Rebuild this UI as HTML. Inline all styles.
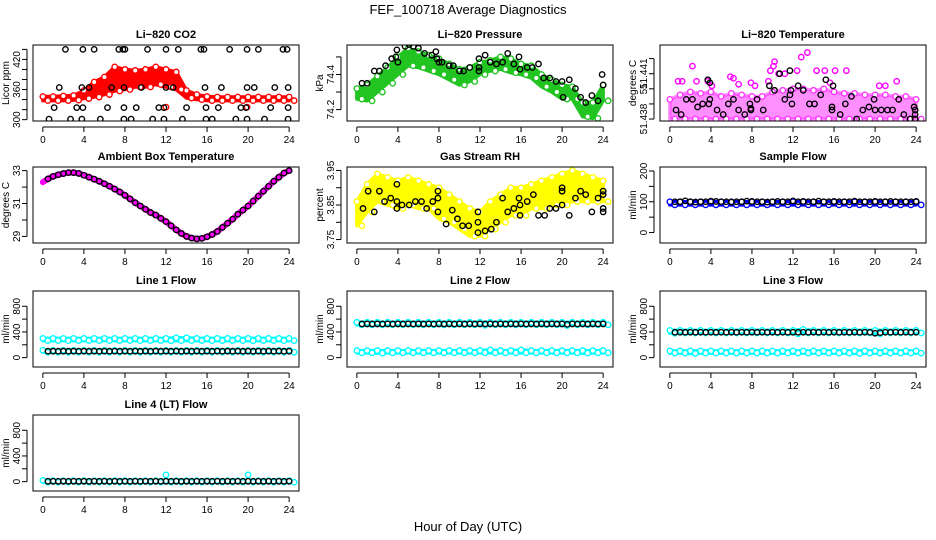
<!DOCTYPE html>
<html><head><meta charset="utf-8">
<style>
html,body{margin:0;padding:0;background:#fff;}
svg{display:block;font-family:"Liberation Sans",sans-serif;}
</style></head>
<body>
<svg id="chart" width="936" height="540" viewBox="0 0 936 540" xmlns="http://www.w3.org/2000/svg">
<rect x="0" y="0" width="936" height="540" fill="#fff"/>
<text x="468" y="14" text-anchor="middle" font-size="13">FEF_100718  Average Diagnostics</text>
<text x="468" y="531" text-anchor="middle" font-size="13">Hour of Day (UTC)</text>
</svg>
<script>
// ---------- data ----------
const HOURS=[0,1,2,3,4,5,6,7,8,9,10,11,12,13,14,15,16,17,18,19,20,21,22,23,24];
const HALF=[0.5,1,1.5,2,2.5,3,3.5,4,4.5,5,5.5,6,6.5,7,7.5,8,8.5,9,9.5,10,10.5,11,11.5,12,12.5,13,13.5,14,14.5,15,15.5,16,16.5,17,17.5,18,18.5,19,19.5,20,20.5,21,21.5,22,22.5,23,23.5,24];
const xTicks=[0,4,8,12,16,20,24];

// CO2
const co2Lo=[338,338,338,339,342,345,350,357,360,365,365,370,365,360,343,340,338,338,338,338,338,338,338,338,338];
const co2Hi=[346,346,347,348,358,375,385,405,400,398,400,405,400,395,358,350,346,345,345,345,345,345,345,345,345];
const co2RedT=[12,19.9];
const co2RedV=[325,325];
const co2BlackT=[2.2,3.9,5.0,7.4,7.8,8.0,10.2,12.0,13.2,15.4,15.7,18.2,19.9,21.0,23.4,23.8,
 1.6,3.8,4.5,6.7,7.9,9.6,12.0,12.7,15.8,17.4,19.9,20.6,22.6,23.9,
 1.1,3.3,3.9,6.3,7.9,9.1,11.3,11.8,14.0,15.9,17.1,19.3,19.8,22.2,23.9,
 0.6,2.7,3.8,5.6,7.9,8.6,10.7,11.8,13.6,15.9,16.5,18.8,19.9,21.6,23.9];
const co2BlackV=[440,440,440,440,440,440,440,440,440,440,440,440,440,440,440,440,
 364,364,364,364,364,364,364,364,364,364,364,364,364,364,
 324,324,324,324,324,324,324,324,324,324,324,324,324,324,324,
 301,301,301,301,301,301,301,301,301,301,301,301,301,301,301];

// Pressure
const presLo=[74.26,74.25,74.30,74.35,74.40,74.45,74.44,74.42,74.40,74.37,74.34,74.36,74.40,74.42,74.43,74.41,74.40,74.38,74.33,74.30,74.26,74.26,74.16,74.15,74.25];
const presHi=[74.32,74.34,74.39,74.44,74.50,74.55,74.53,74.51,74.49,74.46,74.43,74.44,74.47,74.48,74.50,74.49,74.46,74.45,74.40,74.37,74.34,74.33,74.24,74.24,74.34];
const presBlackT=[0.5,1.0,1.7,2.2,2.8,3.4,3.8,3.9,4.0,4.7,5.1,5.5,6.0,6.6,7.3,7.7,7.8,8.0,8.3,9.0,9.4,10.0,10.4,11.0,11.9,11.9,11.9,12.5,13.0,13.6,14.2,14.7,15.3,15.8,15.9,16.6,17.1,17.7,18.2,18.8,19.4,20.0,20.1,20.7,21.3,21.8,22.3,22.9,23.5,23.9,24.0];
const presBlackV=[74.35,74.35,74.42,74.42,74.45,74.49,74.50,74.54,74.47,74.56,74.57,74.56,74.55,74.52,74.51,74.53,74.49,74.47,74.47,74.45,74.45,74.42,74.42,74.44,74.49,74.44,74.42,74.51,74.47,74.46,74.47,74.52,74.46,74.50,74.43,74.44,74.44,74.46,74.38,74.38,74.36,74.36,74.27,74.37,74.32,74.27,74.24,74.28,74.25,74.40,74.34];

// Li-820 temperature
const ltLo=[51.4380,51.4380,51.4380,51.4380,51.4380,51.4380,51.4380,51.4380,51.4380,51.4380,51.4380,51.4380,51.4380,51.4380,51.4380,51.4380,51.4380,51.4380,51.4380,51.4380,51.4380,51.4380,51.4380,51.4380,51.4380];
const ltHi=[51.4393,51.4396,51.4398,51.4397,51.4398,51.4395,51.4397,51.4396,51.4395,51.4395,51.4398,51.4399,51.4400,51.4400,51.4399,51.4400,51.4398,51.4397,51.4397,51.4396,51.4396,51.4396,51.4395,51.4395,51.4393];
const ltMagT=[0.8,1.2,2.2,2.6,3.7,5.9,6.2,7.9,8.3,9.6,9.8,10.1,10.2,10.6,11.2,12.4,12.8,13.4,14.2,14.3,15.1,16.1,17.2,22.1,4.1,6.7,15.6,20.4,21.0];
const ltMagV=[51.4405,51.4405,51.4415,51.4405,51.4405,51.4408,51.4407,51.4404,51.4402,51.4405,51.4412,51.4415,51.4418,51.4410,51.4410,51.4412,51.4421,51.4424,51.4432,51.4412,51.4412,51.4412,51.4412,51.4405,51.4402,51.4403,51.4404,51.4402,51.4402];
const ltBlackT=[0.6,1.1,1.6,2.2,2.7,3.2,3.7,3.9,3.8,3.9,4.6,5.2,5.7,6.2,6.7,7.3,7.8,7.9,7.9,8.5,9.1,9.7,10.2,10.7,11.2,11.7,11.7,11.8,11.9,12.5,13.0,13.6,14.1,14.7,15.2,15.8,15.9,15.8,16.6,17.1,17.7,18.2,18.8,19.4,19.9,20.0,20.6,21.2,21.7,22.3,22.8,23.4,23.8,23.9,23.9,23.9];
const ltBlackV=[51.4386,51.4383,51.4393,51.4393,51.4388,51.4390,51.4406,51.4404,51.4390,51.4393,51.4386,51.4383,51.4390,51.4393,51.4386,51.4383,51.4390,51.4387,51.4386,51.4393,51.4386,51.4402,51.4399,51.4410,51.4393,51.4412,51.4396,51.4399,51.4390,51.4402,51.4399,51.4390,51.4390,51.4396,51.4406,51.4388,51.4402,51.4386,51.4383,51.4390,51.4395,51.4380,51.4386,51.4388,51.4393,51.4386,51.4386,51.4386,51.4386,51.4393,51.4383,51.4380,51.4388,51.4386,51.4383,51.4380];

// Ambient box temperature
const ambient=[32.3,32.5,32.65,32.75,32.82,32.88,32.88,32.83,32.72,32.6,32.48,32.35,32.2,32.05,31.88,31.7,31.5,31.28,31.05,30.85,30.65,30.45,30.3,30.1,29.9,29.65,29.4,29.18,29.0,28.9,28.85,28.88,28.98,29.12,29.3,29.55,29.8,30.05,30.35,30.6,30.85,31.15,31.45,31.75,32.05,32.35,32.6,32.85,33.0];
const ambientT=[0,0.5,1,1.5,2,2.5,3,3.5,4,4.5,5,5.5,6,6.5,7,7.5,8,8.5,9,9.5,10,10.5,11,11.5,12,12.5,13,13.5,14,14.5,15,15.5,16,16.5,17,17.5,18,18.5,19,19.5,20,20.5,21,21.5,22,22.5,23,23.5,24];

// Gas stream RH
const rhLo=[3.79,3.83,3.86,3.85,3.84,3.85,3.84,3.84,3.81,3.80,3.78,3.76,3.76,3.78,3.80,3.82,3.82,3.84,3.84,3.85,3.85,3.86,3.86,3.86,3.86];
const rhHi=[3.86,3.91,3.94,3.93,3.92,3.93,3.92,3.91,3.90,3.88,3.86,3.84,3.83,3.86,3.88,3.90,3.90,3.91,3.92,3.93,3.94,3.95,3.94,3.93,3.92];
const rhBlackT=[0.6,1.1,1.7,2.2,2.7,3.3,3.9,3.9,3.9,4.4,5.1,5.7,6.3,6.8,7.4,7.9,7.9,7.9,8.7,9.3,9.8,10.3,10.9,11.8,11.8,11.8,12.5,13.1,13.6,14.2,14.7,15.3,15.8,15.9,15.9,16.6,17.2,17.7,18.3,18.8,19.4,20.0,20.0,20.0,20.7,21.3,21.8,22.3,22.9,23.5,24.0,24.0,24.0,24.0];
const rhBlackV=[3.84,3.89,3.83,3.89,3.86,3.87,3.91,3.86,3.84,3.85,3.85,3.86,3.86,3.84,3.86,3.89,3.87,3.83,3.795,3.835,3.81,3.79,3.79,3.83,3.80,3.77,3.775,3.78,3.80,3.87,3.83,3.84,3.87,3.85,3.82,3.86,3.88,3.82,3.82,3.84,3.84,3.90,3.89,3.85,3.82,3.87,3.89,3.88,3.83,3.87,3.89,3.88,3.84,3.83];

// Sample flow
const sfLo=[90,90,90,90,90,90,90,90,90,90,90,90,90,90,90,90,90,90,90,90,90,90,90,90,90];
const sfHi=[100,100,100,100,100,100,100,100,100,100,100,100,100,100,100,100,100,100,100,100,100,100,100,100,100];
const sfBlack=[100,100,103,100,99,100,100,102,101,100,100,99,100,100,102,101,100,100,99,100,101,100,100,103,100,101,100,100,102,100,100,101,100,100,100,102,100,100,100,101,100,100,101,100,100,100,100,101];

// Line 1 flow
const l1aLo=[265,265,265,265,265,265,265,265,265,265,265,265,262,265,265,265,265,265,265,265,262,265,265,265,265];
const l1aHi=[300,300,300,300,300,300,300,300,300,300,300,300,300,310,310,300,300,300,300,300,300,300,300,300,300];
const l1bLo=[85,85,85,85,85,85,85,85,85,85,85,85,85,85,85,85,85,85,85,85,85,85,85,85,85];
const l1bHi=[115,115,115,115,115,115,115,115,115,115,115,115,115,115,115,115,115,115,115,115,115,115,115,115,115];
const l1Black=[100,100,100,100,100,100,100,100,100,100,100,100,100,100,100,100,100,100,100,100,100,100,100,100,100,100,100,100,100,100,100,100,100,100,100,100,100,100,100,100,100,100,100,100,100,100,100,100];

// Line 2 flow
const l2aLo=[510,510,510,510,510,510,510,510,510,510,510,510,505,510,510,510,510,510,510,510,500,510,510,510,510];
const l2aHi=[550,550,550,550,550,550,550,550,550,550,550,550,550,550,550,550,550,550,550,550,550,550,550,550,550];
const l2bLo=[75,75,70,75,75,75,75,75,75,75,75,75,75,75,75,75,75,75,75,75,75,75,70,75,75];
const l2bHi=[110,110,110,110,110,110,110,110,110,110,110,110,110,120,110,110,120,110,110,110,110,110,110,110,110];
const l2Black=[525,525,525,525,525,525,525,525,525,525,525,525,525,525,525,525,525,525,525,525,525,525,525,525,525,525,525,525,525,525,525,525,525,525,525,525,525,525,525,525,520,525,525,525,525,525,525,525];

// Line 3 flow
const l3aLo=[380,385,385,385,385,385,385,385,385,385,385,385,370,385,385,385,385,385,385,385,370,385,385,385,385];
const l3aHi=[425,425,425,425,425,425,425,425,425,425,425,425,425,440,425,425,425,425,425,425,425,425,425,425,425];
const l3bLo=[70,70,65,70,70,70,70,70,70,70,70,70,70,70,70,70,70,70,65,70,70,70,70,70,70];
const l3bHi=[105,105,105,105,105,105,105,105,105,105,105,105,105,105,105,105,105,105,105,105,105,105,105,105,105];
const l3Black=[395,395,395,395,395,395,395,395,395,395,395,395,395,395,395,395,395,395,395,395,395,395,395,395,395,395,395,395,395,395,395,395,395,395,395,395,395,395,395,380,390,395,395,395,395,395,395,395];

// Line 4 flow
const l4Lo=[-10,-10,-10,-10,-10,-10,-10,-10,-10,-10,-10,-10,-10,-10,-10,-10,-10,-10,-10,-10,-10,-10,-10,-10,-10];
const l4Hi=[20,15,15,15,15,15,15,15,15,15,15,15,15,15,15,15,15,15,15,15,15,15,15,15,15];
const l4OutT=[12,20];
const l4OutV=[105,105];
const l4Black=[5,5,5,5,5,5,5,5,5,5,5,5,5,5,5,5,5,5,5,5,5,5,5,5,5,5,5,5,5,5,5,5,5,5,5,5,5,5,5,5,5,5,5,5,5,5,5,5];

// ---------- drawing ----------
const NS='http://www.w3.org/2000/svg';
const svg=document.getElementById('chart');
function mk(tag,attrs,parent){const e=document.createElementNS(NS,tag);for(const k in attrs)e.setAttribute(k,attrs[k]);(parent||svg).appendChild(e);return e;}
const COLS=[33,347,660], ROWS=[45,167,291,415], PW=266, PH=76;
const XMIN=-0.96, XMAX=24.96;

function makePanel(col,row,title,ylab,ymin,ymax,ticks,labels,name){
  const p={x:COLS[col],y:ROWS[row],w:PW,h:PH,ymin:ymin,ymax:ymax};
  p.sx=h=>p.x+(h-XMIN)/(XMAX-XMIN)*p.w;
  p.sy=v=>p.y+p.h-(v-ymin)/(ymax-ymin)*p.h;
  const g=mk('g',{});
  
  
  p.g=g;
  const cid='clip-'+name;
  const cp=mk('clipPath',{id:cid},g);
  mk('rect',{x:p.x,y:p.y,width:p.w,height:p.h},cp);
  p.plot=mk('g',{'clip-path':'url(#'+cid+')'},g);
  
  
  const t=mk('text',{x:p.x+p.w/2,y:p.y-7,'text-anchor':'middle','font-size':11,'font-weight':'bold'},g);
  t.textContent=title;
  
  
  const yl=mk('text',{x:0,y:0,'text-anchor':'middle','font-size':10,transform:'translate('+(p.x-24)+','+(p.y+p.h/2)+') rotate(-90)'},g);
  yl.textContent=ylab;
  
  
  const bx=mk('rect',{x:p.x,y:p.y,width:p.w,height:p.h,fill:'none',stroke:'#000','stroke-width':1},g);
  
  
  const ya=mk('line',{x1:p.x-6,x2:p.x-6,y1:p.sy(ticks[0]),y2:p.sy(ticks[ticks.length-1]),stroke:'#000'},g);
  
  
  ticks.forEach(v=>{
    const tk=mk('line',{x1:p.x-6,x2:p.x-11,y1:p.sy(v),y2:p.sy(v),stroke:'#000'},g);
    
    
  });
  labels.forEach(l=>{
    const tl=mk('text',{x:0,y:0,'text-anchor':'middle','font-size':10,transform:'translate('+(p.x-13)+','+p.sy(l[0])+') rotate(-90)'},g);
    tl.textContent=l[1];
    
    
  });
  const xa=mk('line',{x1:p.sx(0),x2:p.sx(24),y1:p.y+p.h+6,y2:p.y+p.h+6,stroke:'#000'},g);
  
  
  xTicks.forEach(h=>{
    const tk=mk('line',{x1:p.sx(h),x2:p.sx(h),y1:p.y+p.h+6,y2:p.y+p.h+11,stroke:'#000'},g);
    
    
    const tl=mk('text',{x:p.sx(h),y:p.y+p.h+22,'text-anchor':'middle','font-size':10},g);
    tl.textContent=String(h);
    
    
  });
  return p;
}
function band(p,lo,hi,color,name,op){
  let pts=HOURS.map((h,i)=>p.sx(h)+','+p.sy(hi[i]));
  pts=pts.concat(HOURS.map((h,i)=>p.sx(h)+','+p.sy(lo[i])).reverse());
  const pg=mk('polygon',{points:pts.join(' '),fill:color,'fill-opacity':op||1,stroke:color,'stroke-opacity':op||1,'stroke-width':3.5,'stroke-linejoin':'round'},p.plot);
  
  
  HOURS.forEach((h,i)=>{
    const c1=mk('circle',{cx:p.sx(h),cy:p.sy(hi[i]),r:2.7,fill:'#fff',stroke:color,'stroke-width':1.4},p.plot);
    
    
    const c2=mk('circle',{cx:p.sx(h)+5,cy:p.sy(lo[i]),r:2.7,fill:'#fff',stroke:color,'stroke-width':1.4},p.plot);
    
    
  });
}
function points(p,ts,vs,color,name){
  ts.forEach((h,i)=>{
    const c=mk('circle',{cx:p.sx(h),cy:p.sy(vs[i]),r:2.7,fill:'none',stroke:color,'stroke-width':1.4},p.plot);
    
    
  });
}
function curve(p,ts,vs,color,w,name){
  const l=mk('polyline',{points:ts.map((h,i)=>p.sx(h)+','+p.sy(vs[i])).join(' '),fill:'none',stroke:color,'stroke-width':w,'stroke-linejoin':'round','stroke-linecap':'round'},p.plot);
  
  
}

let p=makePanel(0,0,'Li\u2212820 CO2','Licor ppm',297.3,448.7,[300,320,340,360,380,400,420,440],[[300,'300'],[360,'360'],[420,'420']],'co2');
band(p,co2Lo,co2Hi,'#ff0000','co2-red');
points(p,co2RedT,co2RedV,'#ff0000','co2-red-outlier');
points(p,co2BlackT,co2BlackV,'#000','co2-black');

p=makePanel(1,0,'Li\u2212820 Pressure','kPa',74.135,74.568,[74.2,74.3,74.4,74.5],[[74.2,'74.2'],[74.4,'74.4']],'pressure');
band(p,presLo,presHi,'#22c422','pressure-green');
points(p,presBlackT,presBlackV,'#000','pressure-black');

p=makePanel(2,0,'Li\u2212820 Temperature','degrees C',51.43787,51.4429,[51.438,51.439,51.440,51.441,51.442],[[51.438,'51.438'],[51.440,'51'],[51.441,'51.441']],'li-temp');
band(p,ltLo,ltHi,'#ff33ff','li-temp-magenta',0.55);
points(p,ltMagT,ltMagV,'#ff00ff','li-temp-magenta-outlier');
points(p,ltBlackT,ltBlackV,'#000','li-temp-black');

p=makePanel(0,1,'Ambient Box Temperature','degrees C',28.6,33.22,[29,30,31,32,33],[[29,'29'],[31,'31'],[33,'33']],'ambient');
curve(p,ambientT,ambient,'#ff00ff',6,'ambient-magenta');
points(p,ambientT.slice(1),ambient.slice(1),'#000','ambient-black');

p=makePanel(1,1,'Gas Stream RH','percent',3.74,3.96,[3.75,3.80,3.85,3.90,3.95],[[3.75,'3.75'],[3.85,'3.85'],[3.95,'3.95']],'rh');
band(p,rhLo,rhHi,'#ffff00','rh-yellow');
points(p,rhBlackT,rhBlackV,'#000','rh-black');

p=makePanel(2,1,'Sample Flow','ml/min',-34,213,[0,50,100,150,200],[[0,'0'],[100,'100'],[200,'200']],'sample-flow');
band(p,sfLo,sfHi,'#0000ff','sample-flow-blue');
points(p,HALF,sfBlack,'#000','sample-flow-black');

const FT=[0,200,400,600,800], FL=[[0,'0'],[400,'400'],[800,'800']];
p=makePanel(0,2,'Line 1 Flow','ml/min',-146,1038,FT,FL,'line1');
band(p,l1aLo,l1aHi,'#00ffff','line1-cyan-upper');
band(p,l1bLo,l1bHi,'#00ffff','line1-cyan-lower');
points(p,HALF,l1Black,'#000','line1-black');
p=makePanel(1,2,'Line 2 Flow','ml/min',-146,1038,FT,FL,'line2');
band(p,l2aLo,l2aHi,'#00ffff','line2-cyan-upper');
band(p,l2bLo,l2bHi,'#00ffff','line2-cyan-lower');
points(p,HALF,l2Black,'#000','line2-black');
p=makePanel(2,2,'Line 3 Flow','ml/min',-146,1038,FT,FL,'line3');
band(p,l3aLo,l3aHi,'#00ffff','line3-cyan-upper');
band(p,l3bLo,l3bHi,'#00ffff','line3-cyan-lower');
points(p,HALF,l3Black,'#000','line3-black');
p=makePanel(0,3,'Line 4 (LT) Flow','ml/min',-146,1038,FT,FL,'line4');
band(p,l4Lo,l4Hi,'#00ffff','line4-cyan');
points(p,l4OutT,l4OutV,'#00ffff','line4-cyan-outlier');
points(p,HALF,l4Black,'#000','line4-black');
</script>
</body></html>
